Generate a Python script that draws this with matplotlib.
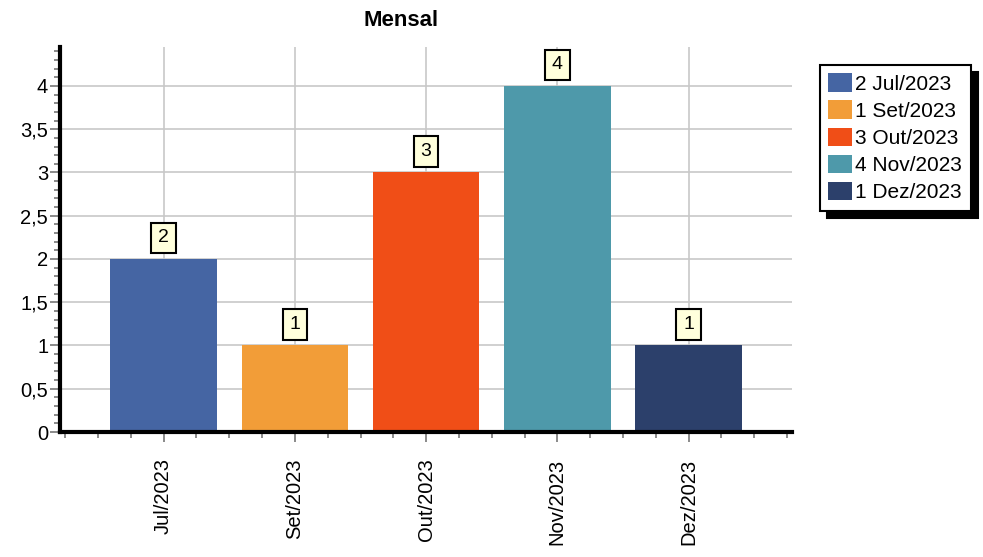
import matplotlib.pyplot as plt
from matplotlib.ticker import FuncFormatter, MultipleLocator

plt.rcParams['font.family'] = ['Liberation Sans', 'DejaVu Sans']

meses = ["Jul/2023", "Set/2023", "Out/2023", "Nov/2023", "Dez/2023"]
valores = [2, 1, 3, 4, 1]
cores = ["#4565a3", "#f29d38", "#f04e17", "#4e99aa", "#2c406b"]

fig = plt.figure(figsize=(9.83, 5.57), dpi=100)
ax = fig.add_axes([0.061, 0.2244, 0.745, 0.6912])

x = list(range(len(meses)))
bars = ax.bar(x, valores, width=0.81, color=cores, zorder=2)

ax.set_xlim(-0.79, 4.79)
ax.set_ylim(0, 4.45)

# grade
ax.grid(True, which='major', color='#c8c8c8', linewidth=1.2, zorder=0)
ax.set_axisbelow(True)

ax.set_xticks(x)
ax.set_xticklabels(meses, rotation=90, fontsize=14.5)
ax.xaxis.set_minor_locator(MultipleLocator(0.25))
ax.yaxis.set_major_locator(MultipleLocator(0.5))
ax.yaxis.set_minor_locator(MultipleLocator(0.1))
ax.yaxis.set_major_formatter(FuncFormatter(lambda v, p: ('%g' % v).replace('.', ',')))
ax.tick_params(axis='y', labelsize=14.5, pad=1.5)
ax.tick_params(which='major', length=7, width=1.2, color='#777777')
ax.tick_params(which='minor', length=4, width=1.2, color='#777777')
ax.tick_params(axis='x', which='major', pad=12)

for s in ['top', 'right']:
    ax.spines[s].set_visible(False)
for s in ['left', 'bottom']:
    ax.spines[s].set_linewidth(3)
    ax.spines[s].set_color('black')
    ax.spines[s].set_zorder(3)

# rotulos nas barras
for xi, v in zip(x, valores):
    ax.annotate(str(v), (xi, v), xytext=(0, 9), textcoords='offset points',
                ha='center', va='bottom', fontsize=14,
                bbox=dict(boxstyle='square,pad=0.35', fc='#ffffdc', ec='black', lw=1.5))

fig.text(401 / 983, 1 - 20 / 557, "Mensal", ha='center', va='center',
         fontsize=16, fontweight='bold')

leg = ax.legend(bars, ["%d %s" % (v, m) for v, m in zip(valores, meses)],
                loc='upper left', bbox_to_anchor=(820 / 983, 1 - 65 / 557),
                bbox_transform=fig.transFigure, fontsize=15,
                frameon=True, fancybox=False, edgecolor='black',
                shadow={'color': 'black', 'alpha': 1, 'ox': 5, 'oy': -5},
                handlelength=1.15, handleheight=1.0, handletextpad=0.15,
                labelspacing=0.32, borderpad=0.4, borderaxespad=0)
leg.get_frame().set_linewidth(1.5)

fig.savefig("out.png", dpi=100)
